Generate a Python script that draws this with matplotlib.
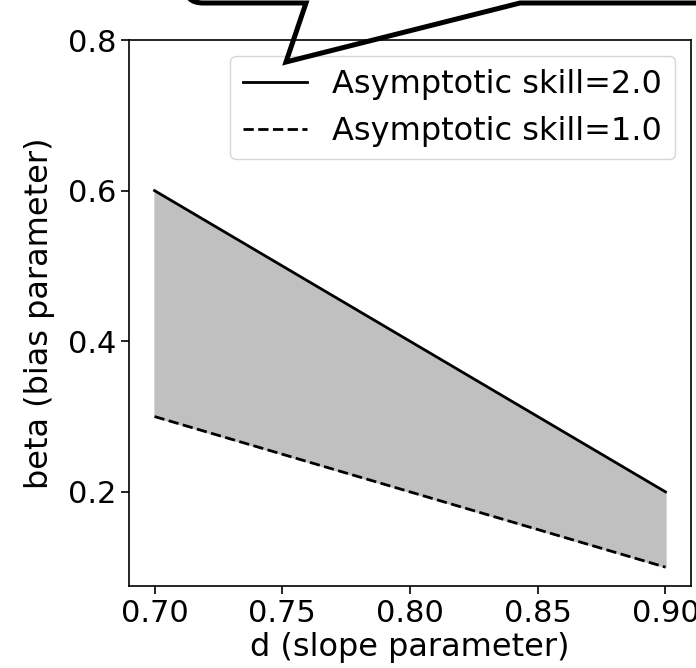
import numpy as np
import matplotlib
matplotlib.use('Agg')
import matplotlib.pyplot as plt
from matplotlib.path import Path
from matplotlib.patches import PathPatch

d = [0.70, 0.75, 0.80, 0.85, 0.90]
beta_skill2 = [0.60, 0.50, 0.40, 0.30, 0.20]
beta_skill1 = [0.30, 0.25, 0.20, 0.15, 0.10]

W, H = 696, 668
plt.rcParams['font.size'] = 22
fig = plt.figure(figsize=(W / 100, H / 100), dpi=100)
ax = fig.add_axes([129 / W, 1 - 586 / H, 562 / W, 546 / H])

ax.fill_between(d, beta_skill1, beta_skill2, color='silver')
ax.plot(d, beta_skill2, 'k-', lw=2, label='Asymptotic skill=2.0')
ax.plot(d, beta_skill1, 'k--', lw=2, label='Asymptotic skill=1.0')
ax.set_xlim(0.69, 0.91)
ax.set_ylim(0.075, 0.8)
ax.set_xticks([0.70, 0.75, 0.80, 0.85, 0.90])
ax.set_yticks([0.2, 0.4, 0.6, 0.8])
ax.set_xlabel('d (slope parameter)', fontsize=23, labelpad=3)
ax.set_ylabel('beta (bias parameter)', fontsize=23, labelpad=9)
ax.tick_params(length=5.5, width=1.2)
for s in ax.spines.values():
    s.set_linewidth(1.2)
ax.legend(loc='upper right', fontsize=23)

# callout bubble drawn over the top of the figure
pts = [(185, -15), (185, 3), (203, 3), (306, 3), (286, 62), (520, 3), (720, 3)]
codes = [Path.MOVETO, Path.CURVE3, Path.CURVE3, Path.LINETO, Path.LINETO,
         Path.LINETO, Path.LINETO]
verts = [(x / W, 1 - y / H) for x, y in pts]
bubble = PathPatch(Path(verts, codes), fill=False, lw=3.6, ec='black',
                   transform=fig.transFigure, clip_on=False, joinstyle='miter')
fig.add_artist(bubble)

fig.savefig('out.png', dpi=100)
